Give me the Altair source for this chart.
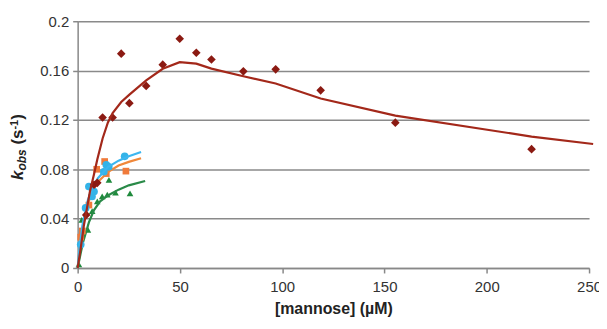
import altair as alt
import pandas as pd

# --- data ---
red_x = [4.2, 8.0, 9.6, 12.2, 17.1, 21.3, 25.3, 33.5, 41.6, 49.9, 58.0, 65.4, 81.0, 96.8, 118.8, 155.3, 221.9]
red_y = [0.043, 0.0675, 0.069, 0.122, 0.122, 0.1737, 0.1336, 0.1476, 0.1648, 0.1858, 0.1745, 0.169, 0.1594, 0.161, 0.144, 0.1178, 0.0963]
red_fit_x = [0, 1.5, 3, 4.5, 6, 8, 9.6, 12.2, 14.8, 17.1, 21.3, 25.3, 33.5, 41.6, 49.9, 58.0, 65.4, 81.0, 96.8, 118.8, 155.3, 221.9, 252]
red_fit_y = [0, 0.016, 0.034, 0.048, 0.062, 0.076, 0.088, 0.105, 0.118, 0.1255, 0.1345, 0.1405, 0.152, 0.1615, 0.1668, 0.1656, 0.1616, 0.1554, 0.1495, 0.1374, 0.1235, 0.1065, 0.1005]

orange_x = [1.5, 2.3, 5.5, 7.0, 9.3, 13.2, 14.0, 23.6]
orange_y = [0.025, 0.030, 0.051, 0.066, 0.080, 0.0863, 0.0765, 0.0785]
orange_fit_x = [0, 1, 2.5, 5, 7.5, 10, 15, 20, 25, 31]
orange_fit_y = [0, 0.016, 0.034, 0.052, 0.063, 0.070, 0.078, 0.083, 0.086, 0.089]

cyan_x = [1.5, 3.9, 5.5, 7.0, 8.0, 12.8, 14.0, 15.2, 23.0]
cyan_y = [0.019, 0.0487, 0.066, 0.058, 0.062, 0.078, 0.0836, 0.082, 0.0905]
cyan_fit_x = [0, 1, 2.5, 5, 7.5, 10, 15, 20, 25, 31]
cyan_fit_y = [0, 0.018, 0.036, 0.055, 0.066, 0.073, 0.082, 0.087, 0.0905, 0.094]

green_x = [0.6, 2.0, 5.0, 7.1, 9.6, 12.0, 14.5, 15.3, 18.5, 25.6]
green_y = [0.003, 0.039, 0.031, 0.046, 0.054, 0.058, 0.0595, 0.0715, 0.061, 0.0605]
green_fit_x = [0, 1, 2.5, 5.5, 8, 11, 15, 20, 25, 33]
green_fit_y = [0, 0.008, 0.02, 0.037, 0.047, 0.054, 0.059, 0.0635, 0.067, 0.0705]

x_ticks = [0, 50, 100, 150, 200, 250]
y_ticks = [0, 0.04, 0.08, 0.12, 0.16, 0.2]

FONT = "Liberation Sans"

xs = alt.Scale(domain=[0, 250], nice=False)
ys = alt.Scale(domain=[0, 0.2], nice=False)

x_axis = alt.Axis(values=x_ticks, title="[mannose] (µM)", grid=False, labelFontSize=15,
                  titleFontSize=16, titleFontWeight="bold", labelColor="#333", titleColor="#222",
                  domainColor="#888", tickColor="#888", tickSize=5, labelPadding=7, titlePadding=6,
                  labelFlush=False, domainWidth=1.5, tickWidth=1.5)
y_axis = alt.Axis(values=y_ticks, format="~g", title=None, grid=True, gridColor="#8a8a8a",
                  gridWidth=1.6, labelFontSize=15, labelColor="#333", domainColor="#888",
                  tickColor="#888", tickSize=5, labelPadding=4, domainWidth=1.5, tickWidth=1.5)


def pts(x, y, shape, color, size):
    df = pd.DataFrame({"x": x, "y": y})
    return alt.Chart(df).mark_point(shape=shape, filled=True, color=color, size=size, opacity=1).encode(
        x=alt.X("x:Q", scale=xs, axis=x_axis), y=alt.Y("y:Q", scale=ys, axis=y_axis))


def line(x, y, color):
    df = pd.DataFrame({"x": x, "y": y})
    return alt.Chart(df).mark_line(color=color, strokeWidth=2.2).encode(
        x=alt.X("x:Q", scale=xs, axis=x_axis), y=alt.Y("y:Q", scale=ys, axis=y_axis))


def label(txt, px, py, size, italic=False):
    df = pd.DataFrame({"t": [txt]})
    return alt.Chart(df).mark_text(angle=270, align="left", baseline="alphabetic", font=FONT,
                                   fontSize=size, fontWeight="bold",
                                   fontStyle="italic" if italic else "normal", color="#222").encode(
        x=alt.value(px), y=alt.value(py), text="t:N")


chart = alt.layer(
    pts(green_x, green_y, "triangle-up", "#1f8a3c", 45),
    line(green_fit_x, green_fit_y, "#2a8a48"),
    pts(orange_x, orange_y, "square", "#f07a3a", 45),
    line(orange_fit_x, orange_fit_y, "#f0883a"),
    pts(cyan_x, cyan_y, "circle", "#33b3e8", 60),
    line(cyan_fit_x, cyan_fit_y, "#3cb6f0"),
    pts(red_x, red_y, "diamond", "#8b1a12", 75),
    line(red_fit_x, red_fit_y, "#a3281a"),
    label("k", -55, 159.5, 17, True),
    label("obs", -51.5, 150, 12, True),
    label("(s", -55, 124, 17),
    label("-1", -60, 108.9, 11),
    label(")", -55, 99.1, 17),
).properties(
    width=514, height=248,
    autosize=alt.AutoSizeParams(type="none"),
    padding={"left": 70, "top": 12.5, "right": 10, "bottom": 55},
).configure_view(stroke=None).configure_axis(labelFont=FONT, titleFont=FONT)

chart.save("out.html", embed_options={"renderer": "svg", "actions": False})
